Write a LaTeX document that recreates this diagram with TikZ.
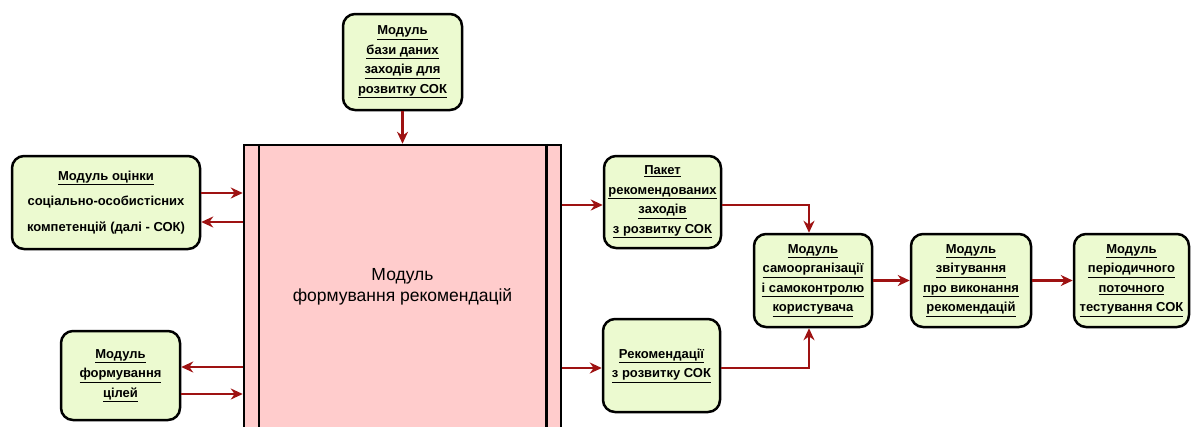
\documentclass[tikz,border=0pt]{standalone}
\usepackage{fontspec}
\setmainfont{Liberation Sans}
\usetikzlibrary{arrows.meta}
\definecolor{boxgreen}{RGB}{236,250,208}
\definecolor{boxpink}{RGB}{255,204,204}
\definecolor{arrowred}{RGB}{158,18,18}
\tikzset{
	module/.style={draw=black,line width=2.5pt,fill=boxgreen,rounded corners=12pt,align=center,inner sep=2pt,
		font=\bfseries\fontsize{13}{19.5}\selectfont},
	mainbox/.style={draw=black,line width=2.5pt,fill=boxpink,align=center,
		font=\fontsize{17.5}{21}\selectfont},
	link/.style={draw=arrowred,line width=2.2pt,-{Stealth[length=12pt,width=11pt]}}
}

\begin{document}
\begin{tikzpicture}[x=1pt,y=-1pt]
		\useasboundingbox (0,0) rectangle (1193,426);
		\clip (0,0) rectangle (1193,426);
		\node[mainbox,minimum width=317pt,minimum height=284pt] (main) at (402.5,287) {Модуль\\ формування рекомендацій};
		\draw[line width=2.5pt] ([xshift=16pt]main.north west) -- ([xshift=16pt]main.south west);
		\draw[line width=2.5pt] ([xshift=-16pt]main.north east) -- ([xshift=-16pt]main.south east);
		\node[module,minimum width=119pt,minimum height=96pt] (db) at (402.5,62) {\underline{Модуль}\\ \underline{бази даних}\\ \underline{заходів для}\\ \underline{розвитку СОК}};
		\node[module,minimum width=188pt,minimum height=93pt,font=\bfseries\fontsize{13}{25.5}\selectfont] (evaluation) at (106,202.5) {\underline{Модуль оцінки}\\ соціально-особистісних\\ компетенцій (далі - СОК)};
		\node[module,minimum width=119pt,minimum height=89pt] (goals) at (120.5,375.5) {\underline{Модуль}\\ \underline{формування}\\ \underline{цілей}};
		\node[module,minimum width=117pt,minimum height=92pt] (package) at (662.5,202) {\underline{Пакет}\\ \underline{рекомендованих}\\ \underline{заходів}\\ \underline{з розвитку СОК}};
		\node[module,minimum width=117pt,minimum height=93pt] (recs) at (661.5,365.5) {\underline{Рекомендації}\\ \underline{з розвитку СОК}};
		\node[module,minimum width=118pt,minimum height=93pt] (self) at (813,280.5) {\underline{Модуль}\\ \underline{самоорганізації}\\ \underline{і самоконтролю}\\ \underline{користувача}};
		\node[module,minimum width=120pt,minimum height=93pt] (report) at (971,280.5) {\underline{Модуль}\\ \underline{звітування}\\ \underline{про виконання}\\ \underline{рекомендацій}};
		\node[module,minimum width=115pt,minimum height=93pt] (testing) at (1131.5,280.5) {\underline{Модуль}\\ \underline{періодичного}\\ \underline{поточного}\\ \underline{тестування СОК}};
		\coordinate (e1) at ([yshift=9.5pt]evaluation.east);
		\coordinate (e2) at ([yshift=-19.5pt]evaluation.east);
		\coordinate (g1) at ([yshift=8.5pt]goals.east);
		\coordinate (g2) at ([yshift=-18.5pt]goals.east);
		\coordinate (p1) at ([yshift=-3pt]package.west);
		\coordinate (p2) at ([yshift=-3pt]package.east);
		\coordinate (r1) at ([yshift=-2.5pt]recs.west);
		\coordinate (r2) at ([yshift=-2.5pt]recs.east);
		\coordinate (s1) at ([xshift=-4pt]self.north);
		\coordinate (s2) at ([xshift=-4pt]self.south);
		\draw[link] (db) -- (main);
		\draw[link] (e1) -- (e1 -| main.west);
		\draw[link] (e2 -| main.west) -- (e2);
		\draw[link] (g1 -| main.west) -- (g1);
		\draw[link] (g2) -- (g2 -| main.west);
		\draw[link] (p1 -| main.east) -- (p1);
		\draw[link] (r1 -| main.east) -- (r1);
		\draw[link] (p2) -| (s1);
		\draw[link] (r2) -| (s2);
		\draw[link] (self) -- (report);
		\draw[link] (report) -- (testing);
	\end{tikzpicture}
\end{document}
